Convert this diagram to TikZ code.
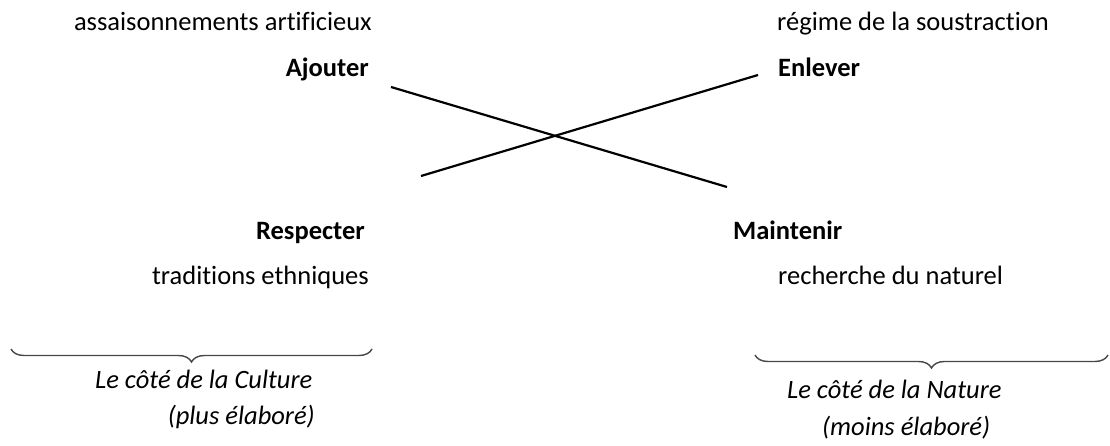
\documentclass[tikz,border=0pt]{standalone}
\usepackage{fontspec}
\setmainfont{Carlito}[Ligatures=NoCommon]
\usepackage{tikz}
\usetikzlibrary{positioning,calc,decorations.pathreplacing}

\tikzset{
    word/.style={inner sep=0pt, font=\fontsize{26.5}{32}\selectfont},
    verb/.style={word, font=\fontsize{26.5}{32}\selectfont\bfseries},
    side/.style={word, font=\fontsize{26.5}{32}\selectfont\itshape},
    cross/.style={line width=2.2pt, black},
    curly/.style={decorate, decoration={brace, amplitude=13pt, mirror, aspect=0.5},
        line width=1.4pt, black!72}
}

\begin{document}
\begin{tikzpicture}[x=1pt, y=-1pt]
    \useasboundingbox (0,0) rectangle (1110,446);

    % Top row
    \node[word, anchor=base east] (assais) at (372,31) {assaisonnements artificieux};
    \node[verb, anchor=base east] (ajouter) at (369,77) {Ajouter};
    \node[word, anchor=base west] (regime) at (777,31) {régime de la soustraction};
    \node[verb, anchor=base west] (enlever) at (778,77) {Enlever};

    % Bottom row
    \node[verb, anchor=base east] (respecter) at (365,240) {Respecter};
    \node[word, anchor=base east] (traditions) at (369,284) {traditions ethniques};
    \node[verb, anchor=base west] (maintenir) at (733,240) {Maintenir};
    \node[word, anchor=base west] (recherche) at (778,284) {recherche du naturel};

    % The cross
    \coordinate (a1) at (391,87);
    \coordinate (a2) at (727,187);
    \coordinate (b1) at (421,176);
    \coordinate (b2) at (758,75);
    \draw[cross] (a1) -- (a2);
    \draw[cross] (b1) -- (b2);

    % Culture side
    \coordinate (cl) at (11,349);
    \coordinate (cr) at (372,349);
    \draw[curly] (cl) -- (cr);
    \node[side, anchor=base west] (culture) at (95,388) {Le côté de la Culture};
    \node[side, anchor=base east] (plus) at (315,424) {(plus élaboré)};

    % Nature side
    \coordinate (nl) at (755,355);
    \coordinate (nr) at (1108,355);
    \draw[curly] (nl) -- (nr);
    \node[side, anchor=base west] (nature) at (787,398) {Le côté de la Nature};
    \node[side, anchor=base west] (moins) at (822,435) {(moins élaboré)};
\end{tikzpicture}
\end{document}
